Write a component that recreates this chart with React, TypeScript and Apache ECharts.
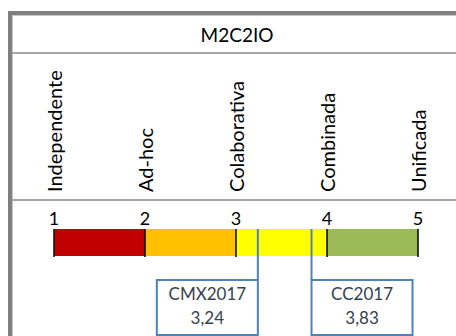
import React, { useEffect, useRef } from "react";
import * as echarts from "echarts";

const title = "M2C2IO";
const levels = [1, 2, 3, 4, 5];
const levelNames = ["Independente", "Ad-hoc", "Colaborativa", "Combinada", "Unificada"];
const segments = [
  [1, 2],
  [2, 3],
  [3, 4],
  [4, 5],
];
const segmentColors = ["#c00000", "#ffc000", "#ffff00", "#9bbb59"];
const markerNames = ["CMX2017", "CC2017"];
const markerValues = [3.24, 3.83];
const markerSides = ["left", "right"];

const FONT = "Lato, 'Open Sans', sans-serif";
const BLUE = "#4f81bd";

export default function App() {
  const ref = useRef<HTMLDivElement>(null);
  useEffect(() => {
    if (!ref.current) return;
    const chart = echarts.init(ref.current, null, { renderer: "svg" });
    const option: any = {
      animation: false,
      backgroundColor: "#ffffff",
      grid: { left: 54, right: 38, top: 229, height: 27 },
      xAxis: [
        {
          type: "value",
          position: "top",
          min: 1,
          max: 5,
          interval: 1,
          axisLine: { show: false },
          axisTick: { show: false },
          splitLine: { show: false },
          axisLabel: { margin: 2, fontSize: 18, color: "#000", fontFamily: FONT },
        },
        {
          type: "value",
          position: "top",
          offset: 29,
          min: 1,
          max: 5,
          interval: 1,
          axisLine: { show: false },
          axisTick: { show: false },
          splitLine: { show: false },
          axisLabel: {
            rotate: -90,
            margin: 8,
            fontSize: 20,
            color: "#000",
            fontFamily: FONT,
            formatter: (v: number) => levelNames[levels.indexOf(v)] ?? "",
          },
        },
      ],
      yAxis: { type: "value", min: 0, max: 1, show: false },
      graphic: [
        { type: "rect", shape: { x: 8, y: 11, width: 4, height: 325 }, style: { fill: "#808080" }, z: 100 },
        { type: "rect", shape: { x: 8, y: 11, width: 448, height: 4 }, style: { fill: "#808080" }, z: 100 },
        { type: "rect", shape: { x: 12, y: 15, width: 444, height: 1 }, style: { fill: "#c8c8c8" }, z: 100 },
        { type: "rect", shape: { x: 12, y: 15, width: 1, height: 321 }, style: { fill: "#c8c8c8" }, z: 100 },
        { type: "rect", shape: { x: 12, y: 52, width: 444, height: 2 }, style: { fill: "#a6a6a6" }, z: 100 },
        { type: "rect", shape: { x: 12, y: 199, width: 444, height: 2 }, style: { fill: "#a6a6a6" }, z: 100 },
        {
          type: "text",
          style: {
            text: title,
            x: 0,
            y: 0,
            fontSize: 19,
            fontFamily: FONT,
            fill: "#000",
            textAlign: "center",
            textVerticalAlign: "middle",
          },
          x: 237,
          y: 34,
        },
      ],
      series: [
        {
          type: "custom",
          xAxisIndex: 0,
          data: segments.map((s, i) => [s[0], s[1], i]),
          renderItem: (params: any, api: any) => {
            const p0 = api.coord([api.value(0), 1]);
            const p1 = api.coord([api.value(1), 0]);
            return {
              type: "rect",
              shape: { x: p0[0], y: p0[1], width: p1[0] - p0[0], height: p1[1] - p0[1] },
              style: { fill: segmentColors[api.value(2)] },
            };
          },
          z: 1,
        },
        {
          type: "custom",
          xAxisIndex: 0,
          data: levels.map((v) => [v]),
          renderItem: (params: any, api: any) => {
            const p0 = api.coord([api.value(0), 1]);
            const p1 = api.coord([api.value(0), 0]);
            return {
              type: "line",
              shape: { x1: p0[0], y1: p0[1], x2: p1[0], y2: p1[1] + 1 },
              style: { stroke: "#000", lineWidth: 1.5 },
            };
          },
          z: 2,
        },
        {
          type: "custom",
          xAxisIndex: 0,
          clip: false,
          data: markerValues.map((v, i) => [v, i]),
          renderItem: (params: any, api: any) => {
            const v = api.value(0);
            const i = api.value(1);
            const top = api.coord([v, 1]);
            const bottom = api.coord([v, 0]);
            const x = top[0];
            const boxTop = bottom[1] + 24;
            const w = 101;
            const h = 55;
            const bx = markerSides[i] === "left" ? x - w : x;
            const label = v.toFixed(2).replace(".", ",");
            return {
              type: "group",
              children: [
                {
                  type: "line",
                  shape: { x1: x, y1: top[1], x2: x, y2: boxTop },
                  style: { stroke: BLUE, lineWidth: 2 },
                },
                {
                  type: "rect",
                  shape: { x: bx, y: boxTop, width: w, height: h },
                  style: { fill: "#fff", stroke: BLUE, lineWidth: 2 },
                },
                {
                  type: "text",
                  x: bx + w / 2,
                  y: boxTop + 13,
                  style: {
                    text: markerNames[i],
                    fontSize: 17,
                    fontFamily: FONT,
                    fill: "#35414f",
                    textAlign: "center",
                    textVerticalAlign: "middle",
                  },
                },
                {
                  type: "text",
                  x: bx + w / 2,
                  y: boxTop + 37,
                  style: {
                    text: label,
                    fontSize: 17,
                    fontFamily: FONT,
                    fill: "#35414f",
                    textAlign: "center",
                    textVerticalAlign: "middle",
                  },
                },
              ],
            };
          },
          z: 3,
        },
      ],
    };
    chart.setOption(option);
    return () => chart.dispose();
  }, []);
  return (
    <div
      ref={ref}
      style={{ position: "fixed", left: 0, top: 0, width: 456, height: 336 }}
    />
  );
}
